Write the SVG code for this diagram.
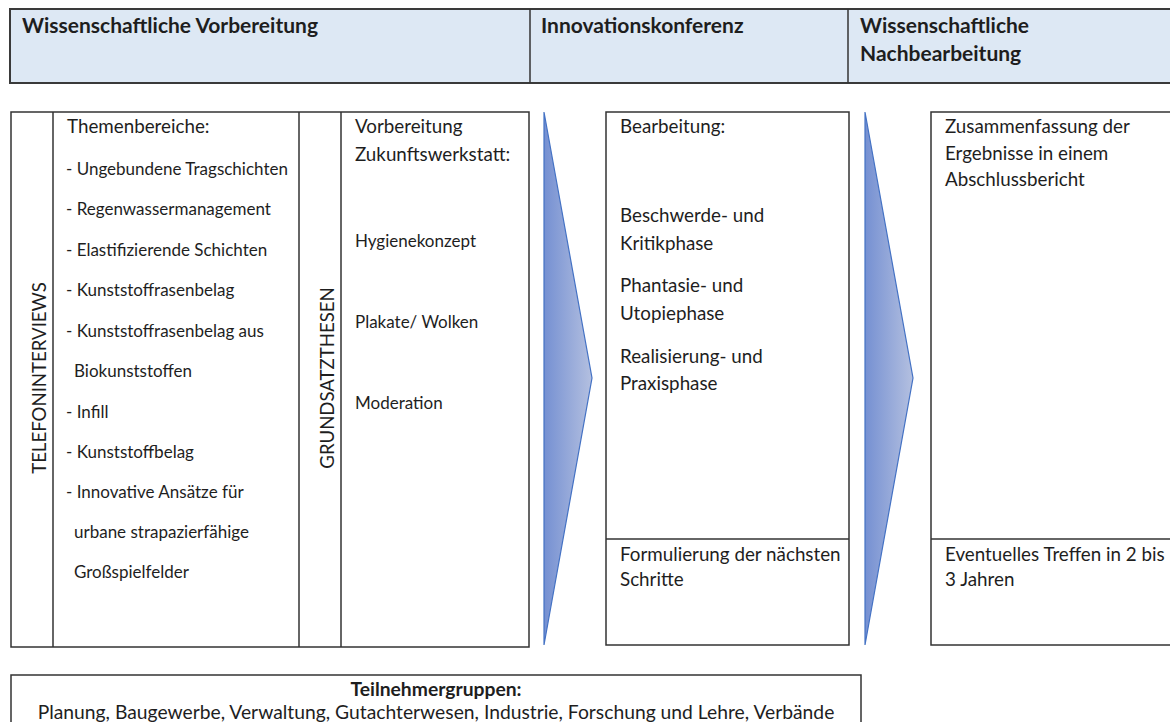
<svg xmlns="http://www.w3.org/2000/svg" width="1170" height="722" viewBox="0 0 1170 722">
<style>
  .box{fill:#ffffff;stroke:#333333;stroke-width:1.5}
  .hdr{fill:#dde8f4;stroke:#3a3a3a;stroke-width:2}
  .ln{stroke:#333333;stroke-width:1.5}
  .t{font-family:Lato,"Liberation Sans",sans-serif;font-size:17px;fill:#1e1e1e}
  .t2{font-family:Lato,"Liberation Sans",sans-serif;font-size:18.8px;fill:#1e1e1e}
  .v{font-family:Lato,"Liberation Sans",sans-serif;font-size:18.6px;fill:#1e1e1e}
  .b{font-family:Lato,"Liberation Sans",sans-serif;font-size:19.3px;fill:#1e1e1e}
  .h{font-family:Lato,"Liberation Sans",sans-serif;font-size:21px;font-weight:bold;fill:#1e1e1e}
  .arrow{fill:url(#g);stroke:#4472c4;stroke-width:1.2}
</style>
<defs>
  <linearGradient id="g" x1="0" y1="0" x2="1" y2="0">
    <stop offset="0" stop-color="#7590d2"/>
    <stop offset="1" stop-color="#b4c0e0"/>
  </linearGradient>
</defs>
<rect width="1170" height="722" fill="#ffffff"/>

<g id="header">
  <rect class="hdr" x="10" y="9" width="1170" height="74"/>
  <line class="ln" x1="530" y1="9" x2="530" y2="83" stroke-width="2"/>
  <line class="ln" x1="848" y1="9" x2="848" y2="83" stroke-width="2"/>
  <text class="h" x="22" y="33">Wissenschaftliche Vorbereitung</text>
  <text class="h" x="541" y="33">Innovationskonferenz</text>
  <text class="h" x="860" y="33">Wissenschaftliche</text>
  <text class="h" x="860" y="61">Nachbearbeitung</text>
</g>

<g id="vorbereitung">
  <rect class="box" x="11" y="112" width="518" height="535"/>
  <line class="ln" x1="53" y1="112" x2="53" y2="647"/>
  <line class="ln" x1="299" y1="112" x2="299" y2="647"/>
  <line class="ln" x1="341" y1="112" x2="341" y2="647"/>
  <text class="v" transform="translate(46,378) rotate(-90)" text-anchor="middle">TELEFONINTERVIEWS</text>
  <text class="v" transform="translate(334,378) rotate(-90)" text-anchor="middle">GRUNDSATZTHESEN</text>
  <text class="t2" x="67" y="133">Themenbereiche:</text>
  <text class="t" x="66" y="175">- Ungebundene Tragschichten</text>
  <text class="t" x="66" y="215">- Regenwassermanagement</text>
  <text class="t" x="66" y="256">- Elastifizierende Schichten</text>
  <text class="t" x="66" y="296">- Kunststoffrasenbelag</text>
  <text class="t" x="66" y="337">- Kunststoffrasenbelag aus</text>
  <text class="t" x="74" y="377">Biokunststoffen</text>
  <text class="t" x="66" y="418">- Infill</text>
  <text class="t" x="66" y="458">- Kunststoffbelag</text>
  <text class="t" x="66" y="498">- Innovative Ansätze für</text>
  <text class="t" x="74" y="538">urbane strapazierfähige</text>
  <text class="t" x="74" y="578">Großspielfelder</text>
  <text class="t2" x="355" y="133">Vorbereitung</text>
  <text class="t2" x="355" y="161">Zukunftswerkstatt:</text>
  <text class="t" x="355" y="247">Hygienekonzept</text>
  <text class="t" x="355" y="328">Plakate/ Wolken</text>
  <text class="t" x="355" y="409">Moderation</text>
</g>

<g id="konferenz">
  <rect class="box" x="606" y="112" width="243" height="533"/>
  <line class="ln" x1="606" y1="539" x2="849" y2="539"/>
  <text class="t2" x="620" y="133">Bearbeitung:</text>
  <text class="t2" x="620" y="222">Beschwerde- und</text>
  <text class="t2" x="620" y="250">Kritikphase</text>
  <text class="t2" x="620" y="292">Phantasie- und</text>
  <text class="t2" x="620" y="320">Utopiephase</text>
  <text class="t2" x="620" y="363">Realisierung- und</text>
  <text class="t2" x="620" y="390">Praxisphase</text>
  <text class="t2" x="620" y="561">Formulierung der nächsten</text>
  <text class="t2" x="620" y="586">Schritte</text>
</g>

<g id="nachbearbeitung">
  <rect class="box" x="931" y="112" width="260" height="533"/>
  <line class="ln" x1="931" y1="539" x2="1170" y2="539"/>
  <text class="t2" x="945" y="133">Zusammenfassung der</text>
  <text class="t2" x="945" y="160">Ergebnisse in einem</text>
  <text class="t2" x="945" y="186">Abschlussbericht</text>
  <text class="t2" x="945" y="561">Eventuelles Treffen in 2 bis</text>
  <text class="t2" x="945" y="586">3 Jahren</text>
</g>

<g id="teilnehmer">
  <rect class="box" x="11" y="675" width="850" height="60"/>
  <text class="b" x="436" y="696" text-anchor="middle" font-weight="bold">Teilnehmergruppen:</text>
  <text class="b" x="436" y="719" text-anchor="middle">Planung, Baugewerbe, Verwaltung, Gutachterwesen, Industrie, Forschung und Lehre, Verbände</text>
</g>

<g id="connectors">
  <polygon class="arrow" points="544,112 592,378 544,645"/>
  <polygon class="arrow" points="865,112 913,378 865,645"/>
</g>
</svg>
